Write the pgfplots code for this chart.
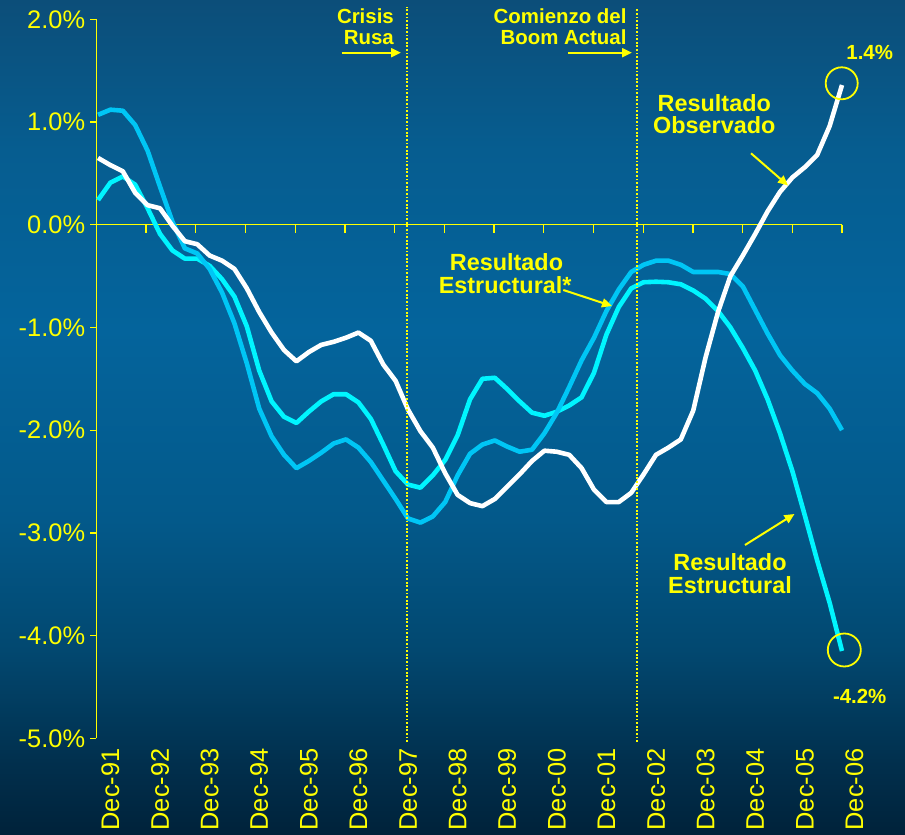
\documentclass[border=0pt]{standalone}
\usepackage{pgfplots}
\pgfplotsset{compat=1.18}
\usepackage{pgfplotstable}
\usepackage{fontspec}
\setmainfont{Liberation Sans}
\usetikzlibrary{arrows.meta}

\definecolor{bg0}{HTML}{0C4E79}
\definecolor{bg1}{HTML}{065D90}
\definecolor{bg2}{HTML}{04649C}
\definecolor{bg3}{HTML}{03598A}
\definecolor{bg4}{HTML}{024870}
\definecolor{bg5}{HTML}{01304E}
\definecolor{bg6}{HTML}{00223A}
\definecolor{ylw}{HTML}{FFFF00}
\definecolor{cyanl}{HTML}{00F5FF}
\definecolor{lblue}{HTML}{00C6F5}

\pgfplotstableread{
i W C L
0 0.65 0.24 1.07
1 0.58 0.41 1.12
2 0.52 0.47 1.11
3 0.31 0.39 0.97
4 0.19 0.16 0.72
5 0.16 -0.09 0.37
6 -0.01 -0.25 0.03
7 -0.16 -0.33 -0.23
8 -0.19 -0.33 -0.28
9 -0.30 -0.40 -0.43
10 -0.35 -0.53 -0.66
11 -0.43 -0.70 -0.96
12 -0.62 -0.99 -1.35
13 -0.85 -1.42 -1.79
14 -1.05 -1.72 -2.06
15 -1.22 -1.87 -2.24
16 -1.33 -1.93 -2.37
17 -1.24 -1.82 -2.30
18 -1.17 -1.72 -2.22
19 -1.14 -1.65 -2.13
20 -1.10 -1.65 -2.09
21 -1.05 -1.73 -2.17
22 -1.13 -1.89 -2.31
23 -1.36 -2.14 -2.49
24 -1.52 -2.40 -2.67
25 -1.80 -2.53 -2.86
26 -2.01 -2.56 -2.90
27 -2.17 -2.44 -2.84
28 -2.42 -2.29 -2.70
29 -2.63 -2.05 -2.44
30 -2.71 -1.70 -2.23
31 -2.74 -1.50 -2.14
32 -2.67 -1.49 -2.10
33 -2.55 -1.60 -2.16
34 -2.43 -1.72 -2.21
35 -2.30 -1.83 -2.19
36 -2.20 -1.86 -2.03
37 -2.21 -1.82 -1.83
38 -2.24 -1.76 -1.58
39 -2.37 -1.68 -1.32
40 -2.58 -1.44 -1.10
41 -2.70 -1.07 -0.84
42 -2.70 -0.80 -0.63
43 -2.61 -0.62 -0.46
44 -2.43 -0.56 -0.39
45 -2.24 -0.555 -0.35
46 -2.17 -0.56 -0.35
47 -2.09 -0.58 -0.39
48 -1.81 -0.64 -0.46
49 -1.29 -0.72 -0.46
50 -0.85 -0.84 -0.46
51 -0.50 -1.00 -0.48
52 -0.30 -1.20 -0.60
53 -0.09 -1.42 -0.83
54 0.13 -1.70 -1.06
55 0.32 -2.03 -1.27
56 0.46 -2.40 -1.42
57 0.56 -2.83 -1.55
58 0.68 -3.27 -1.64
59 0.96 -3.68 -1.79
60 1.36 -4.15 -2.00
}\datatable

\begin{document}
\begin{tikzpicture}
% background gradient
\shade[top color=bg0,bottom color=bg1] (0bp,684.5bp) rectangle (905bp,835bp);
\shade[top color=bg1,bottom color=bg2] (0bp,504.5bp) rectangle (905bp,685bp);
\shade[top color=bg2,bottom color=bg3] (0bp,314.5bp) rectangle (905bp,505bp);
\shade[top color=bg3,bottom color=bg4] (0bp,184.5bp) rectangle (905bp,315bp);
\shade[top color=bg4,bottom color=bg5] (0bp,74.5bp) rectangle (905bp,185bp);
\shade[top color=bg5,bottom color=bg6] (0bp,0bp) rectangle (905bp,75bp);
% zero line with category ticks
\draw[ylw, line width=1.3bp] (96.3bp,610.3bp) -- (842bp,610.3bp);
\foreach \k in {1,...,15} \draw[ylw, line width=1.3bp] ({96.3bp+49.713bp*\k},610.3bp) -- ++(0,-8bp);

\begin{axis}[
  at={(96.3bp,96.7bp)}, anchor=south west,
  scale only axis, width=764.3bp, height=719bp,
  xmin=-0.14, xmax=61.5, ymin=-5, ymax=2,
  clip=false,
  axis y line*=left, axis x line*=bottom,
  x axis line style={draw=none},
  y axis line style={ylw, line width=1.3bp, -},
  tick align=outside,
  major tick length=6bp,
  ytick={-5,-4,-3,-2,-1,0,1,2},
  yticklabels={-5.0\%,-4.0\%,-3.0\%,-2.0\%,-1.0\%,0.0\%,1.0\%,2.0\%},
  xtick={1,5,9,13,17,21,25,29,33,37,41,45,49,53,57,61},
  xticklabels={Dec-91,Dec-92,Dec-93,Dec-94,Dec-95,Dec-96,Dec-97,Dec-98,Dec-99,Dec-00,Dec-01,Dec-02,Dec-03,Dec-04,Dec-05,Dec-06},
  ytick style={ylw, line width=1.3bp},
  xtick style={draw=none},
  yticklabel style={font=\fontsize{25.5}{30}\selectfont, text=ylw, anchor=east, inner sep=0pt},
  xticklabel style={font=\fontsize{25.5}{30}\selectfont, text=ylw, rotate=90, anchor=east, inner sep=0pt},
  yticklabel shift=5bp,
  xticklabel shift=4bp,
]
\addplot[cyanl, line width=4.6bp, line join=round] table[x=i,y=C]{\datatable};
\addplot[lblue, line width=4.6bp, line join=round] table[x=i,y=L]{\datatable};
\addplot[white, line width=4.6bp, line join=round] table[x=i,y=W]{\datatable};
\end{axis}

% event lines
\draw[ylw, line width=1.8bp, dash pattern=on 1.8bp off 1.8bp] (407.3bp,93bp) -- (407.3bp,828bp);
\draw[ylw, line width=1.8bp, dash pattern=on 1.8bp off 1.8bp] (636.7bp,93bp) -- (636.7bp,827bp);

% annotations
\tikzset{ann/.style={text=ylw, inner sep=0pt, font=\bfseries\fontsize{20.5}{24}\selectfont},
         annb/.style={text=ylw, inner sep=0pt, font=\bfseries\fontsize{23.5}{26}\selectfont},
         arr/.style={ylw, line width=2bp, -{Triangle[length=10bp,width=9bp]}}}
\node[ann, anchor=base east] at (394bp,811bp) {Crisis};
\node[ann, anchor=base east] at (394bp,790bp) {Rusa};
\draw[arr] (341.7bp,782.3bp) -- (401bp,782.3bp);

\node[ann, anchor=base east] at (626.7bp,811bp) {Comienzo del};
\node[ann, anchor=base east] at (626.7bp,790bp) {Boom Actual};
\draw[arr] (568.3bp,782.3bp) -- (632bp,782.3bp);

\node[ann, anchor=base] at (869.7bp,775.7bp) {1.4\%};
\draw[ylw, line width=1.8bp] (841.7bp,751.7bp) circle[radius=16bp];

\node[annb, anchor=base] at (714.3bp,723.5bp) {Resultado};
\node[annb, anchor=base] at (714.3bp,701bp) {Observado};
\draw[arr] (751bp,681.7bp) -- (788bp,649.5bp);

\node[annb, anchor=base east] at (563.3bp,564bp) {Resultado};
\node[annb, anchor=base east] at (571.7bp,541.5bp) {Estructural*};
\draw[arr] (563.3bp,545bp) -- (612bp,529bp);

\node[annb, anchor=base] at (730bp,264bp) {Resultado};
\node[annb, anchor=base] at (730bp,241bp) {Estructural};
\draw[arr] (745bp,290bp) -- (794.5bp,321bp);

\draw[ylw, line width=1.8bp] (844.3bp,185bp) circle[radius=16.5bp];
\node[ann, anchor=base] at (859.7bp,131.7bp) {-4.2\%};

\pgfresetboundingbox
\useasboundingbox (0bp,0bp) rectangle (905bp,835bp);
\end{tikzpicture}
\end{document}
